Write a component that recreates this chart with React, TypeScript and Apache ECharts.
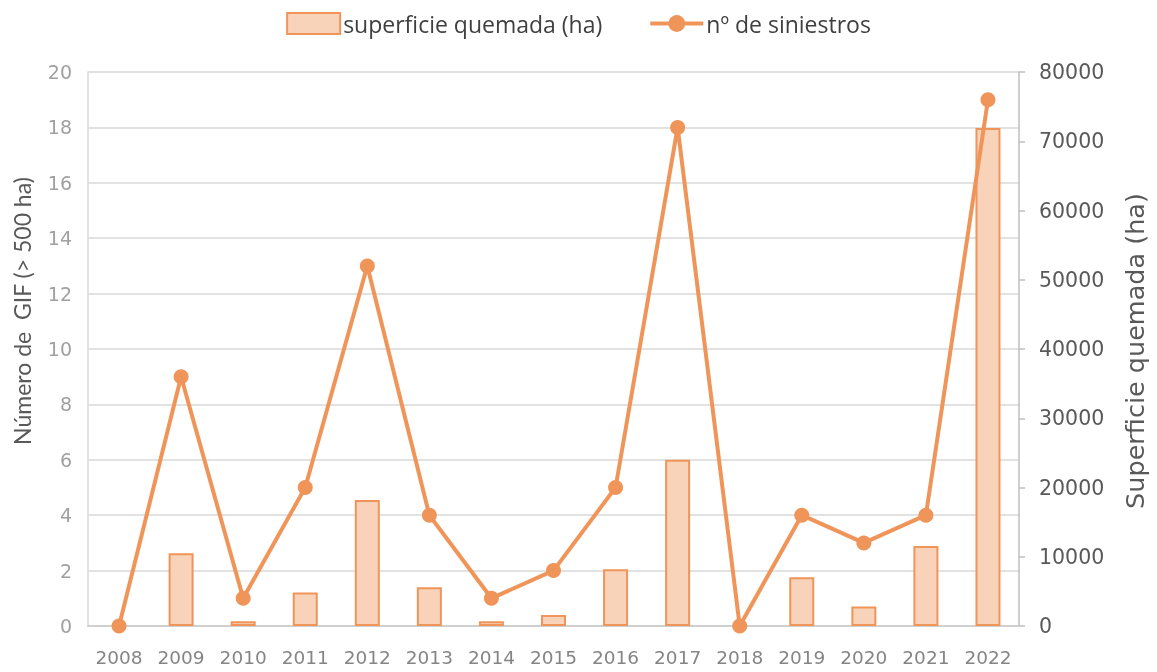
import React, { useEffect, useRef } from "react";
import * as echarts from "echarts";

const years = ["2008", "2009", "2010", "2011", "2012", "2013", "2014", "2015", "2016", "2017", "2018", "2019", "2020", "2021", "2022"];
const siniestros = [0, 9, 1, 5, 13, 4, 1, 2, 5, 18, 0, 4, 3, 4, 19];
const superficie = [0, 10500, 700, 4850, 18200, 5600, 700, 1600, 8200, 24000, 0, 7050, 2800, 11550, 71900];
const leftTitle = "Número de  GIF (> 500 ha)";
const rightTitle = "Superficie quemada (ha)";

const ORANGE = "#F0955A";
const FONT = "'DejaVu Sans', sans-serif";

export default function App() {
  const ref = useRef<HTMLDivElement>(null);
  useEffect(() => {
    if (!ref.current) return;
    const chart = echarts.init(ref.current, undefined, { renderer: "svg" });
    chart.setOption({
      animation: false,
      textStyle: { fontFamily: FONT },
      legend: {
        top: 7,
        left: "center",
        itemGap: 46,
        itemWidth: 53,
        itemHeight: 21,
        textStyle: { fontSize: 23, color: "#404040", fontFamily: "'Open Sans', sans-serif", padding: [0, 0, 0, -2] },
        data: [
          { name: "superficie quemada (ha)", icon: "rect" },
          { name: "nº de siniestros", lineStyle: { width: 4, color: ORANGE } },
        ],
      },
      graphic: [
        {
          type: "text",
          x: 22,
          y: 311,
          rotation: Math.PI / 2,
          style: { text: leftTitle, fontSize: 23, fontFamily: "Lato, sans-serif", fill: "#595959", align: "center", verticalAlign: "middle" },
        },
        {
          type: "text",
          x: 1135,
          y: 351,
          rotation: Math.PI / 2,
          style: { text: rightTitle, fontSize: 25.5, fontFamily: FONT, fill: "#595959", align: "center", verticalAlign: "middle" },
        },
      ],
      grid: { left: 88, right: 138, top: 72, bottom: 46, containLabel: false, outerBoundsMode: "none" },
      xAxis: {
        type: "category",
        data: years,
        axisLine: { show: true, lineStyle: { color: "#d0d0d0", width: 2 } },
        axisTick: { show: false },
        axisLabel: { color: "#858585", fontSize: 18.5, margin: 22, fontFamily: FONT },
      },
      yAxis: [
        {
          type: "value",
          min: 0,
          max: 20,
          interval: 2,
          axisLine: { show: true, lineStyle: { color: "#d9d9d9", width: 1.5 } },
          axisTick: { show: false },
          axisLabel: { color: "#a0a0a0", fontSize: 19, margin: 16, fontFamily: FONT },
          splitLine: { show: true, lineStyle: { color: "#d9d9d9", width: 1.5 } },
        },
        {
          type: "value",
          min: 0,
          max: 80000,
          interval: 10000,
          position: "right",
          axisLine: { show: true, lineStyle: { color: "#bfbfbf", width: 1.5 } },
          axisTick: { show: true, inside: false, length: 6, lineStyle: { color: "#bfbfbf", width: 1.5 } },
          axisLabel: { color: "#595959", fontSize: 20.5, margin: 20, fontFamily: FONT, formatter: (v: number) => String(v) },
          splitLine: { show: false },
        },
      ],
      series: [
        {
          name: "superficie quemada (ha)",
          type: "bar",
          yAxisIndex: 1,
          data: superficie.map((v) => (v === 0 ? { value: v, itemStyle: { borderWidth: 0 } } : v)),
          barWidth: 25,
          itemStyle: { color: "#F8D3B9", borderColor: ORANGE, borderWidth: 2 },
          z: 1,
        },
        {
          name: "nº de siniestros",
          type: "line",
          yAxisIndex: 0,
          data: siniestros,
          symbol: "circle",
          symbolSize: 15,
          lineStyle: { color: ORANGE, width: 4 },
          itemStyle: { color: ORANGE },
          z: 3,
        },
      ],
    });
    return () => chart.dispose();
  }, []);
  return <div ref={ref} style={{ position: "fixed", left: 0, top: 0, width: 1157, height: 672 }} />;
}
